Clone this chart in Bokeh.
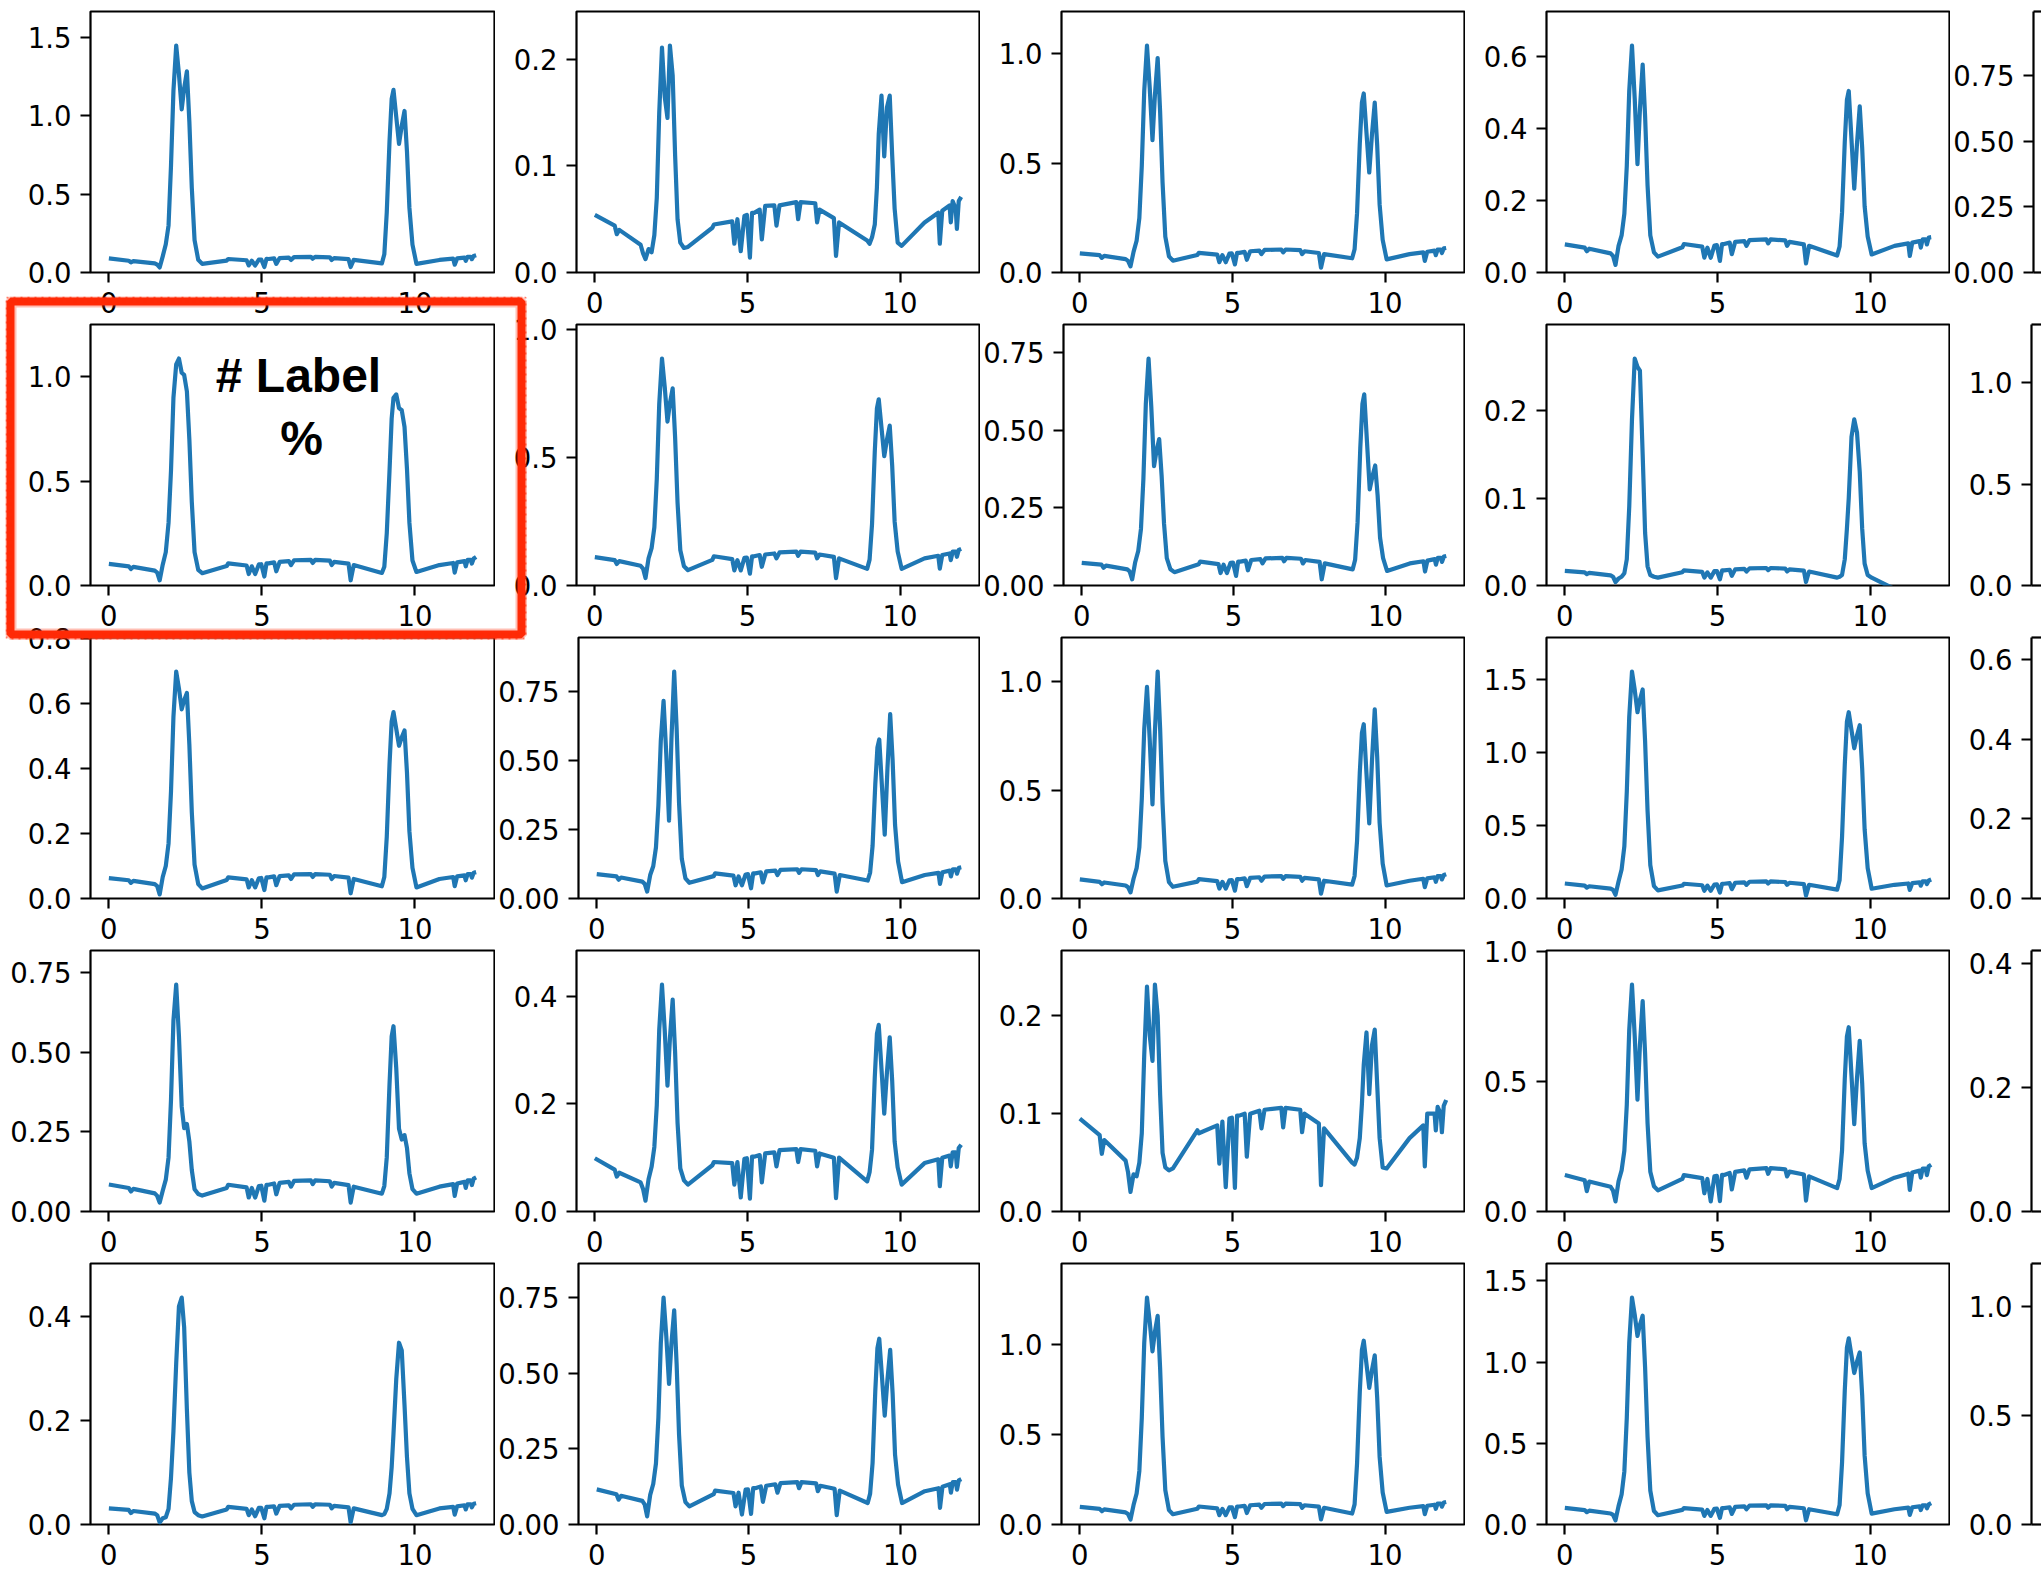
from bokeh.plotting import figure
from bokeh.layouts import row, column
from bokeh.models import (Range1d, FixedTicker, NumeralTickFormatter, LinearAxis,
                          BoxAnnotation, Label)
from bokeh.embed import file_html
from bokeh.resources import INLINE

# ---------------------------------------------------------------- data
# shared sample positions (same x for every spectrum)
X = [0.0, 0.65, 0.72, 0.8, 1.5, 1.58, 1.66, 1.76, 1.86, 1.95,
     2.03, 2.11, 2.2, 2.29, 2.38, 2.46, 2.55, 2.63, 2.71, 2.8,
     2.92, 3.05, 3.85, 3.9, 4.5, 4.57, 4.67, 4.78,
     4.9, 4.98, 5.08, 5.15, 5.22, 5.4, 5.47, 5.58, 5.88, 5.95, 6.05, 6.6, 6.66, 6.74, 7.22, 7.28,
     7.36, 7.83, 7.9, 8.0, 8.92, 9.0, 9.08, 9.17, 9.24, 9.3, 9.39, 9.48,
     9.57, 9.66, 9.74, 9.82, 9.92, 10.05, 10.8, 11.25, 11.3, 11.38,
     11.62, 11.66, 11.72, 11.82, 11.86, 11.92, 12.0]

Y_0_0 = [0.09, 0.075, 0.064, 0.072, 0.058, 0.05, 0.032, 0.103, 0.18, 0.3,
         0.68, 1.158, 1.447, 1.264, 1.04, 1.174, 1.283, 0.962, 0.539, 0.207,
         0.081, 0.055, 0.076, 0.086, 0.078, 0.045, 0.075, 0.045,
         0.082, 0.083, 0.035, 0.087, 0.086, 0.09, 0.055, 0.092, 0.095, 0.08, 0.098, 0.1, 0.088, 0.1, 0.097, 0.08,
         0.092, 0.085, 0.035, 0.08, 0.058, 0.116, 0.384, 0.838, 1.106, 1.164, 0.992, 0.82,
         0.936, 1.03, 0.773, 0.412, 0.178, 0.055, 0.08, 0.088, 0.05, 0.09,
         0.095, 0.075, 0.1, 0.1, 0.085, 0.105, 0.11]
Y_0_1 = [0.054, 0.044, 0.036, 0.04, 0.026, 0.018, 0.0125, 0.022, 0.019, 0.035,
         0.07, 0.15, 0.211, 0.165, 0.145, 0.213, 0.185, 0.11, 0.05, 0.028,
         0.023, 0.024, 0.042, 0.045, 0.048, 0.027, 0.05, 0.02,
         0.053, 0.054, 0.014, 0.056, 0.056, 0.059, 0.031, 0.0625, 0.063, 0.044, 0.063, 0.066, 0.05, 0.066, 0.065, 0.047,
         0.059, 0.051, 0.0156, 0.047, 0.03, 0.027, 0.033, 0.045, 0.08, 0.13, 0.166, 0.109,
         0.155, 0.166, 0.11, 0.06, 0.028, 0.025, 0.047, 0.056, 0.027, 0.058,
         0.063, 0.047, 0.067, 0.06, 0.041, 0.067, 0.071]
Y_0_2 = [0.087, 0.079, 0.067, 0.076, 0.061, 0.053, 0.028, 0.094, 0.145, 0.249,
         0.487, 0.83, 1.037, 0.843, 0.605, 0.811, 0.98, 0.735, 0.412, 0.164,
         0.074, 0.054, 0.08, 0.09, 0.082, 0.047, 0.079, 0.047,
         0.086, 0.087, 0.037, 0.09, 0.09, 0.094, 0.058, 0.097, 0.1, 0.084, 0.103, 0.105, 0.092, 0.105, 0.102, 0.084,
         0.097, 0.089, 0.022, 0.084, 0.065, 0.106, 0.27, 0.589, 0.777, 0.818, 0.637, 0.457,
         0.632, 0.776, 0.582, 0.31, 0.149, 0.06, 0.084, 0.092, 0.053, 0.095,
         0.1, 0.079, 0.105, 0.105, 0.089, 0.11, 0.112]
Y_0_3 = [0.078, 0.069, 0.059, 0.066, 0.053, 0.046, 0.021, 0.074, 0.103, 0.163,
         0.296, 0.504, 0.63, 0.482, 0.301, 0.453, 0.577, 0.433, 0.242, 0.103,
         0.056, 0.044, 0.07, 0.079, 0.072, 0.041, 0.069, 0.041,
         0.075, 0.076, 0.032, 0.079, 0.079, 0.083, 0.051, 0.085, 0.087, 0.074, 0.09, 0.092, 0.081, 0.092, 0.089, 0.074,
         0.085, 0.078, 0.025, 0.074, 0.047, 0.072, 0.166, 0.363, 0.479, 0.504, 0.369, 0.233,
         0.358, 0.461, 0.346, 0.184, 0.1, 0.05, 0.074, 0.081, 0.046, 0.083,
         0.087, 0.069, 0.092, 0.092, 0.078, 0.097, 0.098]

Y_1_0 = [0.104, 0.092, 0.079, 0.089, 0.071, 0.062, 0.025, 0.1, 0.16, 0.3,
         0.55, 0.9, 1.06, 1.088, 1.02, 1.01, 0.93, 0.7, 0.4, 0.16,
         0.075, 0.059, 0.093, 0.106, 0.096, 0.055, 0.092, 0.055,
         0.101, 0.102, 0.043, 0.106, 0.106, 0.111, 0.068, 0.113, 0.117, 0.098, 0.121, 0.123, 0.108, 0.123, 0.119, 0.098,
         0.113, 0.105, 0.025, 0.098, 0.06, 0.09, 0.25, 0.55, 0.8, 0.9, 0.916, 0.85,
         0.84, 0.76, 0.56, 0.3, 0.12, 0.065, 0.098, 0.108, 0.062, 0.111,
         0.117, 0.092, 0.123, 0.123, 0.105, 0.129, 0.137]
Y_1_1 = [0.111, 0.099, 0.084, 0.095, 0.077, 0.066, 0.029, 0.106, 0.146, 0.227,
         0.416, 0.709, 0.886, 0.775, 0.64, 0.712, 0.77, 0.578, 0.323, 0.138,
         0.075, 0.06, 0.1, 0.114, 0.103, 0.059, 0.099, 0.059,
         0.108, 0.109, 0.046, 0.114, 0.114, 0.119, 0.073, 0.121, 0.125, 0.106, 0.129, 0.132, 0.116, 0.132, 0.128, 0.106,
         0.121, 0.112, 0.029, 0.106, 0.065, 0.101, 0.24, 0.523, 0.691, 0.727, 0.616, 0.505,
         0.57, 0.624, 0.468, 0.25, 0.133, 0.065, 0.106, 0.116, 0.066, 0.119,
         0.125, 0.099, 0.132, 0.132, 0.112, 0.139, 0.143]
Y_1_2 = [0.073, 0.067, 0.057, 0.064, 0.052, 0.045, 0.02, 0.075, 0.111, 0.182,
         0.343, 0.584, 0.73, 0.574, 0.384, 0.432, 0.471, 0.353, 0.198, 0.088,
         0.052, 0.043, 0.068, 0.077, 0.069, 0.04, 0.067, 0.04,
         0.073, 0.074, 0.031, 0.077, 0.077, 0.08, 0.049, 0.082, 0.085, 0.071, 0.087, 0.089, 0.078, 0.089, 0.086, 0.071,
         0.082, 0.076, 0.02, 0.071, 0.052, 0.083, 0.203, 0.443, 0.584, 0.615, 0.462, 0.309,
         0.351, 0.386, 0.29, 0.154, 0.088, 0.047, 0.071, 0.078, 0.045, 0.08,
         0.085, 0.067, 0.089, 0.089, 0.076, 0.093, 0.095]
Y_1_3 = [0.0167, 0.015, 0.013, 0.0144, 0.0116, 0.01, 0.004, 0.008, 0.01, 0.014,
         0.03, 0.09, 0.19, 0.2595, 0.25, 0.2456, 0.15, 0.06, 0.022, 0.012,
         0.01, 0.009, 0.0152, 0.0172, 0.0156, 0.009, 0.015, 0.009,
         0.0164, 0.0166, 0.007, 0.0172, 0.0172, 0.018, 0.011, 0.0184, 0.019, 0.016, 0.0196, 0.02, 0.0176, 0.02, 0.0194, 0.016,
         0.0184, 0.017, 0.004, 0.016, 0.009, 0.01, 0.012, 0.03, 0.065, 0.1, 0.17, 0.19,
         0.175, 0.13, 0.065, 0.025, 0.012, 0.009, -0.004, -0.01, -0.01, -0.01,
         -0.01, -0.01, -0.01, -0.01, -0.01, -0.01, -0.01]

Y_2_0 = [0.0625, 0.056, 0.048, 0.054, 0.044, 0.038, 0.0125, 0.066, 0.1, 0.169,
         0.328, 0.558, 0.697, 0.645, 0.581, 0.609, 0.631, 0.473, 0.265, 0.104,
         0.044, 0.031, 0.057, 0.065, 0.059, 0.034, 0.056, 0.034,
         0.062, 0.063, 0.026, 0.065, 0.065, 0.068, 0.041, 0.069, 0.071, 0.06, 0.074, 0.075, 0.066, 0.075, 0.073, 0.06,
         0.069, 0.064, 0.016, 0.06, 0.0375, 0.066, 0.189, 0.412, 0.544, 0.5725, 0.521, 0.469,
         0.495, 0.516, 0.387, 0.206, 0.094, 0.034, 0.06, 0.066, 0.038, 0.068,
         0.071, 0.056, 0.075, 0.075, 0.064, 0.079, 0.081]
Y_2_1 = [0.088, 0.08, 0.068, 0.076, 0.061, 0.053, 0.025, 0.085, 0.117, 0.185,
         0.337, 0.573, 0.716, 0.521, 0.282, 0.579, 0.822, 0.617, 0.345, 0.144,
         0.073, 0.057, 0.081, 0.091, 0.083, 0.048, 0.08, 0.048,
         0.087, 0.088, 0.037, 0.091, 0.091, 0.095, 0.058, 0.098, 0.101, 0.085, 0.104, 0.106, 0.093, 0.106, 0.103, 0.085,
         0.098, 0.09, 0.025, 0.085, 0.065, 0.094, 0.19, 0.415, 0.547, 0.576, 0.404, 0.231,
         0.471, 0.668, 0.501, 0.267, 0.134, 0.059, 0.085, 0.093, 0.053, 0.095,
         0.101, 0.08, 0.106, 0.106, 0.09, 0.111, 0.113]
Y_2_2 = [0.088, 0.077, 0.066, 0.074, 0.06, 0.052, 0.028, 0.091, 0.14, 0.236,
         0.459, 0.781, 0.976, 0.732, 0.434, 0.771, 1.047, 0.785, 0.44, 0.174,
         0.075, 0.054, 0.078, 0.089, 0.08, 0.046, 0.077, 0.046,
         0.084, 0.085, 0.036, 0.089, 0.089, 0.093, 0.057, 0.095, 0.098, 0.082, 0.101, 0.103, 0.091, 0.103, 0.1, 0.082,
         0.095, 0.088, 0.022, 0.082, 0.064, 0.104, 0.265, 0.579, 0.764, 0.804, 0.575, 0.346,
         0.636, 0.873, 0.655, 0.349, 0.161, 0.06, 0.082, 0.091, 0.052, 0.093,
         0.098, 0.077, 0.103, 0.103, 0.088, 0.108, 0.112]
Y_2_3 = [0.103, 0.088, 0.075, 0.084, 0.068, 0.059, 0.025, 0.117, 0.199, 0.358,
         0.731, 1.245, 1.556, 1.43, 1.277, 1.363, 1.433, 1.075, 0.602, 0.229,
         0.085, 0.056, 0.089, 0.101, 0.091, 0.053, 0.088, 0.053,
         0.096, 0.097, 0.041, 0.101, 0.101, 0.105, 0.064, 0.108, 0.111, 0.094, 0.115, 0.117, 0.103, 0.117, 0.113, 0.094,
         0.108, 0.099, 0.02, 0.094, 0.061, 0.125, 0.421, 0.919, 1.213, 1.277, 1.154, 1.03,
         1.117, 1.188, 0.891, 0.475, 0.208, 0.067, 0.094, 0.103, 0.059, 0.105,
         0.111, 0.088, 0.117, 0.117, 0.099, 0.123, 0.13]

Y_3_0 = [0.085, 0.074, 0.063, 0.071, 0.057, 0.049, 0.028, 0.065, 0.1, 0.17,
         0.35, 0.6, 0.713, 0.55, 0.33, 0.262, 0.275, 0.22, 0.13, 0.07,
         0.055, 0.05, 0.074, 0.084, 0.076, 0.044, 0.074, 0.044,
         0.08, 0.081, 0.034, 0.084, 0.084, 0.088, 0.054, 0.09, 0.093, 0.078, 0.096, 0.098, 0.086, 0.098, 0.095, 0.078,
         0.09, 0.083, 0.028, 0.078, 0.056, 0.08, 0.17, 0.4, 0.55, 0.582, 0.45, 0.26,
         0.226, 0.24, 0.2, 0.12, 0.07, 0.056, 0.078, 0.086, 0.049, 0.088,
         0.093, 0.074, 0.098, 0.098, 0.083, 0.103, 0.107]
Y_3_1 = [0.099, 0.078, 0.065, 0.072, 0.054, 0.042, 0.02, 0.06, 0.083, 0.12,
         0.198, 0.338, 0.422, 0.337, 0.234, 0.322, 0.394, 0.296, 0.165, 0.08,
         0.058, 0.05, 0.086, 0.092, 0.09, 0.05, 0.092, 0.026,
         0.098, 0.099, 0.024, 0.102, 0.102, 0.105, 0.054, 0.108, 0.11, 0.084, 0.114, 0.116, 0.092, 0.116, 0.113, 0.084,
         0.108, 0.1, 0.025, 0.1, 0.056, 0.073, 0.115, 0.25, 0.33, 0.347, 0.265, 0.182,
         0.26, 0.324, 0.243, 0.13, 0.082, 0.05, 0.09, 0.097, 0.047, 0.1,
         0.104, 0.084, 0.11, 0.11, 0.083, 0.118, 0.124]
Y_3_2 = [0.095, 0.078, 0.059, 0.073, 0.052, 0.04, 0.02, 0.038, 0.036, 0.05,
         0.08, 0.16, 0.23, 0.18, 0.154, 0.232, 0.2, 0.12, 0.06, 0.045,
         0.042, 0.044, 0.083, 0.08, 0.088, 0.049, 0.092, 0.025,
         0.095, 0.096, 0.024, 0.098, 0.098, 0.1, 0.056, 0.1, 0.103, 0.085, 0.104, 0.106, 0.086, 0.106, 0.104, 0.081,
         0.1, 0.09, 0.027, 0.085, 0.05, 0.048, 0.055, 0.075, 0.11, 0.15, 0.183, 0.12,
         0.17, 0.186, 0.13, 0.075, 0.045, 0.044, 0.075, 0.088, 0.046, 0.1,
         0.1, 0.083, 0.107, 0.1, 0.081, 0.108, 0.114]
Y_3_3 = [0.14, 0.12, 0.078, 0.115, 0.095, 0.08, 0.039, 0.116, 0.158, 0.234,
         0.41, 0.698, 0.872, 0.673, 0.43, 0.638, 0.808, 0.606, 0.339, 0.153,
         0.097, 0.081, 0.125, 0.14, 0.128, 0.07, 0.125, 0.039,
         0.135, 0.137, 0.04, 0.141, 0.14, 0.148, 0.085, 0.152, 0.158, 0.13, 0.162, 0.167, 0.145, 0.167, 0.162, 0.135,
         0.153, 0.142, 0.042, 0.135, 0.09, 0.125, 0.234, 0.51, 0.673, 0.708, 0.522, 0.336,
         0.512, 0.656, 0.492, 0.262, 0.157, 0.09, 0.13, 0.145, 0.083, 0.15,
         0.157, 0.13, 0.165, 0.165, 0.14, 0.174, 0.18]

Y_4_0 = [0.031, 0.028, 0.022, 0.026, 0.021, 0.018, 0.004, 0.012, 0.014, 0.03,
         0.09, 0.18, 0.31, 0.42, 0.437, 0.38, 0.22, 0.1, 0.045, 0.024,
         0.018, 0.0155, 0.029, 0.034, 0.03, 0.018, 0.029, 0.016,
         0.032, 0.032, 0.012, 0.034, 0.034, 0.035, 0.021, 0.036, 0.037, 0.031, 0.038, 0.039, 0.034, 0.039, 0.038, 0.031,
         0.036, 0.033, 0.004, 0.031, 0.018, 0.02, 0.03, 0.06, 0.11, 0.175, 0.28, 0.35,
         0.335, 0.23, 0.13, 0.06, 0.03, 0.018, 0.031, 0.034, 0.019, 0.035,
         0.037, 0.029, 0.039, 0.039, 0.033, 0.04, 0.041]
Y_4_1 = [0.116, 0.1, 0.082, 0.095, 0.078, 0.066, 0.027, 0.098, 0.134, 0.202,
         0.353, 0.6, 0.75, 0.622, 0.465, 0.599, 0.708, 0.531, 0.297, 0.129,
         0.074, 0.06, 0.1, 0.112, 0.104, 0.06, 0.105, 0.033,
         0.115, 0.116, 0.035, 0.12, 0.12, 0.126, 0.075, 0.128, 0.133, 0.105, 0.137, 0.14, 0.12, 0.14, 0.136, 0.11,
         0.128, 0.118, 0.031, 0.112, 0.071, 0.102, 0.203, 0.442, 0.583, 0.614, 0.487, 0.36,
         0.479, 0.577, 0.433, 0.231, 0.132, 0.071, 0.11, 0.12, 0.055, 0.125,
         0.133, 0.105, 0.14, 0.14, 0.115, 0.146, 0.15]
Y_4_2 = [0.098, 0.087, 0.074, 0.084, 0.067, 0.058, 0.028, 0.108, 0.172, 0.298,
         0.593, 1.01, 1.262, 1.127, 0.963, 1.071, 1.16, 0.87, 0.487, 0.191,
         0.08, 0.057, 0.088, 0.1, 0.09, 0.052, 0.087, 0.052,
         0.095, 0.096, 0.041, 0.1, 0.1, 0.104, 0.064, 0.107, 0.11, 0.093, 0.114, 0.116, 0.102, 0.116, 0.113, 0.093,
         0.107, 0.099, 0.028, 0.093, 0.061, 0.112, 0.337, 0.736, 0.971, 1.022, 0.891, 0.76,
         0.86, 0.941, 0.706, 0.376, 0.178, 0.07, 0.093, 0.102, 0.058, 0.104,
         0.11, 0.087, 0.116, 0.116, 0.099, 0.122, 0.125]
Y_4_3 = [0.102, 0.089, 0.076, 0.085, 0.068, 0.059, 0.026, 0.113, 0.185, 0.327,
         0.657, 1.118, 1.398, 1.292, 1.162, 1.23, 1.286, 0.965, 0.54, 0.209,
         0.083, 0.057, 0.09, 0.101, 0.092, 0.053, 0.089, 0.053,
         0.097, 0.098, 0.041, 0.101, 0.101, 0.106, 0.065, 0.109, 0.112, 0.094, 0.116, 0.118, 0.104, 0.118, 0.115, 0.094,
         0.109, 0.1, 0.026, 0.094, 0.063, 0.12, 0.379, 0.826, 1.09, 1.147, 1.04, 0.933,
         1.003, 1.06, 0.795, 0.424, 0.192, 0.067, 0.094, 0.104, 0.059, 0.106,
         0.112, 0.089, 0.118, 0.118, 0.1, 0.124, 0.132]

SPECTRA = [
    [Y_0_0, Y_0_1, Y_0_2, Y_0_3],
    [Y_1_0, Y_1_1, Y_1_2, Y_1_3],
    [Y_2_0, Y_2_1, Y_2_2, Y_2_3],
    [Y_3_0, Y_3_1, Y_3_2, Y_3_3],
    [Y_4_0, Y_4_1, Y_4_2, Y_4_3],
]

# peak heights of the fifth column (only its axis is on the page)
EDGE_PEAKS = [0.864, 1.12, 0.57, 0.366, 1.04]

X_TICKS = ["0", "5", "10"]
Y_TICKS = [
    [["0.0", "0.5", "1.0", "1.5"], ["0.0", "0.1", "0.2"], ["0.0", "0.5", "1.0"],
     ["0.0", "0.2", "0.4", "0.6"], ["0.00", "0.25", "0.50", "0.75"]],
    [["0.0", "0.5", "1.0"], ["0.0", "0.5", "1.0"], ["0.00", "0.25", "0.50", "0.75"],
     ["0.0", "0.1", "0.2"], ["0.0", "0.5", "1.0"]],
    [["0.0", "0.2", "0.4", "0.6", "0.8"], ["0.00", "0.25", "0.50", "0.75"],
     ["0.0", "0.5", "1.0"], ["0.0", "0.5", "1.0", "1.5"], ["0.0", "0.2", "0.4", "0.6"]],
    [["0.00", "0.25", "0.50", "0.75"], ["0.0", "0.2", "0.4"], ["0.0", "0.1", "0.2"],
     ["0.0", "0.5", "1.0"], ["0.0", "0.2", "0.4"]],
    [["0.0", "0.2", "0.4"], ["0.00", "0.25", "0.50", "0.75"], ["0.0", "0.5", "1.0"],
     ["0.0", "0.5", "1.0", "1.5"], ["0.0", "0.5", "1.0"]],
]

NOTE_LINES = ["# Label", "%"]

# ---------------------------------------------------------------- layout / style
LINE_COLOR = "#1f77b4"
MARK_RED = "#ff2a06"
TICK_FONT = "DejaVu Sans"
TICK_SIZE = "27.5px"

COL_W = [495, 485, 485, 485, 91]
COL_PAD = [90, 81, 81, 81, 81]
ROW_TOP = [11, 14, 14, 14, 14]
ROW_BOTTOM = [51, 51, 51, 51, 50]
FRAME_H = 261
OVERLAP = 13
X_START, X_END = -0.6, 12.6


def row_height(r):
    return ROW_TOP[r] + FRAME_H + ROW_BOTTOM[r]


def frame_left(c):
    return sum(COL_W[:c]) + COL_PAD[c]


def row_start(r):
    return sum(row_height(k) for k in range(r)) - OVERLAP * r


def frame_bottom(r):
    return row_start(r) + ROW_TOP[r] + FRAME_H


PAGE_H = row_start(4) + row_height(4)


def style_axis(ax):
    ax.major_tick_line_color = "black"
    ax.major_tick_line_width = 2.2
    ax.major_tick_out = 10
    ax.major_tick_in = 0
    ax.minor_tick_line_color = None
    ax.major_label_text_font = TICK_FONT
    ax.major_label_text_font_size = TICK_SIZE
    ax.major_label_text_color = "black"


def make_panel(r, c):
    edge = c == 4
    right_pad = 0 if edge else 1
    if edge:
        y_top = 1.15 * EDGE_PEAKS[r]
        px_per_unit = (COL_W[1] - COL_PAD[1] - 1) / (X_END - X_START)
        x_end = X_START + (COL_W[c] - COL_PAD[c]) / px_per_unit
    else:
        y_top = 1.15 * max(SPECTRA[r][c])
        x_end = X_END

    p = figure(width=COL_W[c], height=row_height(r),
               x_range=Range1d(X_START, x_end), y_range=Range1d(0, y_top),
               output_backend="svg", toolbar_location=None, tools="",
               min_border_left=COL_PAD[c], min_border_right=right_pad,
               min_border_top=ROW_TOP[r], min_border_bottom=ROW_BOTTOM[r],
               background_fill_color="white",
               border_fill_color="white", border_fill_alpha=0.0)
    if r > 0:
        p.margin = (-OVERLAP, 0, 0, 0)
    p.xgrid.visible = False
    p.ygrid.visible = False

    xa, ya = p.xaxis[0], p.yaxis[0]
    style_axis(xa)
    style_axis(ya)
    xa.ticker = FixedTicker(ticks=[float(t) for t in X_TICKS])
    xa.formatter = NumeralTickFormatter(format="0")
    xa.major_label_standoff = 9
    labels = Y_TICKS[r][c]
    ya.ticker = FixedTicker(ticks=[float(t) for t in labels])
    ya.formatter = NumeralTickFormatter(format="0." + "0" * len(labels[0].split(".")[1]))
    ya.major_label_standoff = 9

    if edge:
        p.outline_line_color = None
        for ax in (xa, ya):
            ax.axis_line_color = "black"
            ax.axis_line_width = 2.2
        top_ax = LinearAxis(ticker=FixedTicker(ticks=[]), axis_line_color="black",
                            axis_line_width=2.2, major_tick_out=0, major_tick_in=0,
                            minor_tick_line_color=None, major_label_standoff=0)
        p.add_layout(top_ax, "above")
    else:
        p.outline_line_color = "black"
        p.outline_line_width = 2.2
        p.outline_line_alpha = 1.0
        xa.axis_line_color = None
        ya.axis_line_color = None
        p.line(X, SPECTRA[r][c], line_color=LINE_COLOR, line_width=4.2,
               line_join="round")
    return p


grid = [[make_panel(r, c) for c in range(5)] for r in range(5)]

# ---------------------------------------------------------------- note inside panel (1, 0)
note_panel = grid[1][0]
fl, fb = frame_left(0), frame_bottom(1)
for text, cx, base in ((NOTE_LINES[0], 298, 375), (NOTE_LINES[1], 301, 438)):
    note_panel.add_layout(Label(
        x=cx - fl, y=fb - base, x_units="screen", y_units="screen", text=text,
        text_font="Liberation Sans", text_font_style="bold", text_font_size="48px",
        text_align="center", text_baseline="alphabetic", text_color="black",
        level="overlay"))

# ---------------------------------------------------------------- hand-drawn marker
# a transparent sheet laid over the page; the red frame is drawn on it
SHEET_X, SHEET_Y, SHEET_W, SHEET_H = 5, 296, 522, 344
sheet = figure(width=SHEET_W, height=SHEET_H, x_range=Range1d(0, SHEET_W),
               y_range=Range1d(0, SHEET_H), x_axis_type=None, y_axis_type=None,
               output_backend="svg", toolbar_location=None, tools="", min_border=0,
               outline_line_color=None, background_fill_alpha=0.0,
               border_fill_alpha=0.0)
sheet.xgrid.visible = False
sheet.ygrid.visible = False
sheet.margin = (SHEET_Y - PAGE_H, 0, PAGE_H - SHEET_Y - SHEET_H, SHEET_X)

inset = 5
for w, a, dash in ((12, 0.3, "solid"), (8, 1.0, "solid"), (2, 0.7, "3 4")):
    sheet.add_layout(BoxAnnotation(
        left=inset, right=SHEET_W - inset - 1, top=SHEET_H - inset, bottom=inset + 1,
        left_units="screen", right_units="screen",
        top_units="screen", bottom_units="screen",
        fill_color=None, line_color=MARK_RED, line_width=w, line_alpha=a,
        line_dash=dash, level="overlay"))
sheet.add_layout(BoxAnnotation(
    left=1, right=SHEET_W - 2, top=SHEET_H - 1, bottom=2,
    left_units="screen", right_units="screen",
    top_units="screen", bottom_units="screen",
    fill_color=None, line_color=MARK_RED, line_width=2, line_alpha=0.6,
    line_dash="2 5", level="overlay"))

layout = column(*[row(*figs) for figs in grid], sheet)

with open("out.html", "w") as f:
    f.write(file_html(layout, INLINE))
